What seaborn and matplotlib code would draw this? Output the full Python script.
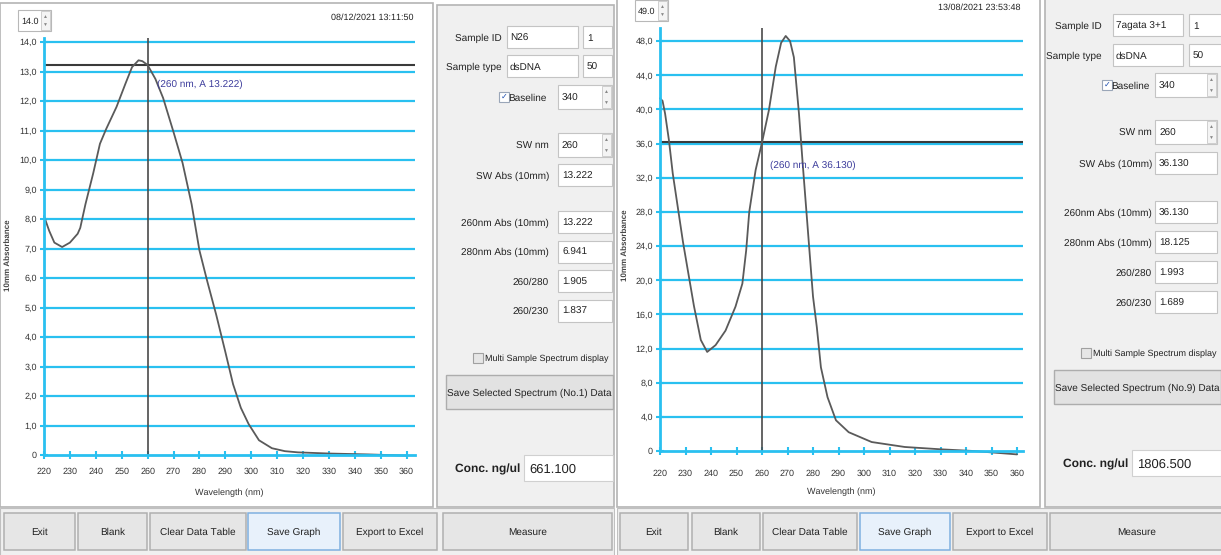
import matplotlib
matplotlib.use("Agg")
import matplotlib.pyplot as plt
from matplotlib.patches import Rectangle
import seaborn as sns
import pandas as pd

sns.set_theme(style="white")
plt.rcParams['font.family'] = ['Liberation Sans', 'DejaVu Sans']
plt.rcParams['text.hinting'] = 'no_hinting'
plt.rcParams['text.hinting_factor'] = 1

W, H = 1221, 555

# ---------------- data ----------------
wl_left = [220, 222, 224, 227, 230, 233, 234, 236, 239, 241.6, 244, 248, 251.5, 254, 256.5,
           258, 260, 263, 266, 270, 273.5, 277, 280, 283, 286.5, 290, 293, 296, 299, 303,
           308, 313, 318, 330, 345, 360]
abs_left = [8.1, 7.6, 7.2, 7.05, 7.2, 7.5, 7.7, 8.5, 9.55, 10.55, 11.05, 11.8, 12.6, 13.15, 13.38,
            13.35, 13.22, 12.75, 12.1, 10.95, 9.9, 8.5, 6.94, 5.9, 4.75, 3.5, 2.4, 1.6, 1.05, 0.5,
            0.23, 0.13, 0.09, 0.05, 0.02, -0.02]

wl_right = [220, 221, 222, 223.5, 225, 227, 229, 231, 233.3, 236, 238.5, 241.8, 245.7, 249.6,
            252.3, 253.8, 255, 257.5, 260, 262.7, 265.4, 267.5, 269.3, 271, 272.5, 274.5, 276,
            278, 280, 281.5, 283.1, 285.7, 289, 294, 303, 316, 330, 343, 358, 360]
abs_right = [41.3, 41.0, 39.5, 36.4, 32.5, 28.5, 24.5, 21.0, 17.0, 13.0, 11.6, 12.4, 14.1, 16.9,
             19.6, 23.5, 28.0, 32.9, 36.13, 39.9, 45.0, 47.8, 48.6, 48.0, 46.1, 39.5, 33.5,
             25.8, 18.1, 14.5, 9.8, 6.3, 3.6, 2.2, 1.05, 0.47, 0.2, 0.0, -0.35, -0.4]

x_ticks = list(range(220, 361, 10))
left_yticks = list(range(0, 15))
left_ylabels = ["0"] + [f"{v},0" for v in left_yticks[1:]]
right_yticks = list(range(0, 49, 4))
right_ylabels = ["0"] + [f"{v},0" for v in right_yticks[1:]]

sw_nm = 260
sw_abs_left = 13.222
sw_abs_right = 36.130

left_fields = {"Sample ID": ("N26", "1"), "Sample type": ("dsDNA", "50")}
right_fields = {"Sample ID": ("7agata 3+1", "1"), "Sample type": ("dsDNA", "50")}
left_vals = ["13.222", "6.941", "1.905", "1.837"]
right_vals = ["36.130", "18.125", "1.993", "1.689"]
val_labels = ["260nm Abs (10mm)", "280nm Abs (10mm)", "260/280", "260/230"]
left_conc, right_conc = "661.100", "1806.500"
left_date, right_date = "08/12/2021 13:11:50", "13/08/2021 23:53:48"
buttons = ["Exit", "Blank", "Clear Data Table", "Save Graph", "Export to Excel"]

# ---------------- helpers ----------------
fig = plt.figure(figsize=(W / 100, H / 100), dpi=100)
fig.patch.set_facecolor("white")

def fx(x):
    return x / W

def fy(y):
    return 1 - y / H

def rect(x0, y0, x1, y1, fc="white", ec="#a9a9a9", lw=1.0, z=-5):
    fig.patches.append(Rectangle((fx(x0), fy(y1)), (x1 - x0) / W, (y1 - y0) / H,
                                 transform=fig.transFigure, facecolor=fc, edgecolor=ec,
                                 linewidth=lw, zorder=z))

def txt(x, y, s, ha="left", size=7, color="#222222", weight="normal", rot=0,
        va="center_baseline"):
    fig.text(fx(x), fy(y), s, ha=ha, va=va, fontsize=size, color=color,
             fontweight=weight, rotation=rot, zorder=4)

GRID = "#29c0f0"
PANEL = "#f0f0f0"
FS = 7

def spinner(x1, y0, y1):
    rect(x1 - 10, y0 + 1, x1 - 1, y1 - 1, fc="#f4f4f4", ec="#c8c8c8", lw=0.6, z=-3)
    txt(x1 - 5.5, y0 + (y1 - y0) * 0.3, "▲", ha="center", size=3.5, color="#888888",
        va="center")
    txt(x1 - 5.5, y0 + (y1 - y0) * 0.72, "▼", ha="center", size=3.5, color="#888888",
        va="center")

def window(off, dy, graph_right, ctrl_x0, ctrl_x1, pos, ys, fields, vals, conc, date,
           spin_val, sw_abs, wl, ab, yticks, ylabels, ax_box, xlim_max, ylim_max, ann_xy, no,
           btn_x, measure_x, xpad, lpad):
    lab_r, bx0, bx1, sbx0, sbx1, vx0, vx1, lab2_r = pos
    # graph panel frame
    rect(off + 0, dy + 3, graph_right, 507, fc="white", ec="#b4b4b4", lw=1.2, z=-10)
    # control panel
    rect(ctrl_x0, dy + 5, ctrl_x1, 507, fc=PANEL, ec="#b4b4b4", lw=1.2, z=-10)
    # top spinner and date
    sx0 = off + 18
    rect(sx0, dy + 10, sx0 + 33, dy + 31, fc="white", ec="#b8b8b8", lw=0.8)
    txt(sx0 + 3, dy + 20.5, spin_val, size=6.5)
    spinner(sx0 + 33, dy + 10, dy + 31)
    txt(graph_right - 19, dy + 17, date, ha="right", size=6.8)
    # axes
    l, r, t, b = ax_box
    ax = fig.add_axes([fx(l), fy(b), (r - l) / W, (b - t) / H])
    df = pd.DataFrame({"wl": wl, "A": ab})
    sns.lineplot(data=df, x="wl", y="A", ax=ax, color="#5a5a5a", linewidth=1.3,
                 zorder=4, clip_on=False)
    ax.set_xlim(220, xlim_max)
    ax.set_ylim(0, ylim_max)
    ax.set_facecolor("white")
    for yv in yticks[1:]:
        ax.axhline(yv, color=GRID, lw=1.6, zorder=1)
    ax.axvline(sw_nm, color="#4a4a4a", lw=1.2, zorder=3)
    ax.axhline(sw_abs, color="#3a3a3a", lw=1.5, zorder=3)
    ax.text(ann_xy[0], ann_xy[1], f"({sw_nm} nm, A {sw_abs:.3f})", color="#3c3c9c",
            fontsize=7.5, va="center", ha="left", zorder=5)
    ax.set_xticks(x_ticks)
    ax.set_xticklabels([str(v) for v in x_ticks])
    ax.set_yticks(yticks)
    ax.set_yticklabels(ylabels)
    ax.tick_params(axis="both", direction="inout", length=6, width=1.5, color=GRID,
                   labelsize=6.5, labelcolor="#333333", pad=2, left=True, bottom=True)
    ax.tick_params(axis="x", pad=xpad)
    for s in ["top", "right"]:
        ax.spines[s].set_visible(False)
    for s in ["left", "bottom"]:
        ax.spines[s].set_color(GRID)
        ax.spines[s].set_linewidth(2)
        ax.spines[s].set_zorder(6)
    ax.set_xlabel("Wavelength (nm)", fontsize=6.5, color="#333333", labelpad=lpad)
    ax.set_ylabel("")
    txt(off + 8, dy + 255, "10mm Absorbance", ha="center", size=6, weight="bold",
        color="#444444", rot=90, va="center")

    # control panel content
    y_id, y_type, y_base, y_sw, y_swa, y_v0, y_step, y_multi, y_btn, y_conc = ys
    for (k, (v1, v2)), yy in zip(fields.items(), [y_id, y_type]):
        txt(lab_r, yy, k, ha="right", size=FS)
        rect(bx0, yy - 11, bx1, yy + 11, fc="white", ec="#c4c4c4", lw=0.8)
        txt(bx0 + 3, yy, v1, size=FS)
        rect(sbx0, yy - 11, sbx1, yy + 11, fc="white", ec="#c4c4c4", lw=0.8)
        txt(sbx0 + 4, yy, v2, size=FS)
    # baseline
    yb = y_base
    rect(lab2_r - 50, yb - 5, lab2_r - 40, yb + 5, fc="white", ec="#9aa6b8", lw=0.8)
    txt(lab2_r - 45, yb, "✓", ha="center", size=6, color="#2050b0", va="center")
    txt(lab2_r - 2, yb, "Baseline", ha="right", size=FS)
    rect(vx0, yb - 12, vx1, yb + 12, fc="white", ec="#c4c4c4", lw=0.8)
    txt(vx0 + 4, yb, "340", size=FS)
    spinner(vx1, yb - 12, yb + 12)
    ysw = y_sw
    txt(lab2_r, ysw, "SW nm", ha="right", size=FS)
    rect(vx0, ysw - 12, vx1, ysw + 12, fc="white", ec="#c4c4c4", lw=0.8)
    txt(vx0 + 4, ysw, str(sw_nm), size=FS)
    spinner(vx1, ysw - 12, ysw + 12)
    ya = y_swa
    txt(lab2_r, ya, "SW Abs (10mm)", ha="right", size=FS)
    rect(vx0, ya - 11, vx1, ya + 11, fc="white", ec="#c4c4c4", lw=0.8)
    txt(vx0 + 4, ya, vals[0], size=FS)
    for i, (lab, v) in enumerate(zip(val_labels, vals)):
        yy = y_v0 + i * y_step
        txt(lab2_r, yy, lab, ha="right", size=FS)
        rect(vx0, yy - 11, vx1, yy + 11, fc="white", ec="#c4c4c4", lw=0.8)
        txt(vx0 + 4, yy, v, size=FS)
    ym = y_multi
    rect(ctrl_x0 + 36, ym - 5, ctrl_x0 + 46, ym + 5, fc="#e6e6e6", ec="#a0a0a0", lw=0.8)
    txt(ctrl_x0 + 48, ym, "Multi Sample Spectrum display", size=6.6)
    rect(ctrl_x0 + 9, y_btn, ctrl_x0 + 176, y_btn + 34, fc="#e2e2e2", ec="#adadad", lw=1)
    txt(ctrl_x0 + 92, y_btn + 17, f"Save Selected Spectrum (No.{no}) Data",
        ha="center", size=FS)
    yc = y_conc
    txt(ctrl_x0 + 18, yc, "Conc. ng/ul", size=8.5, weight="bold")
    rect(ctrl_x0 + 87, yc - 13, ctrl_x0 + 176, yc + 13, fc="white", ec="#d0d0d0", lw=0.8)
    txt(ctrl_x0 + 92, yc, conc, size=9)

    # buttons
    by0, by1 = 513, 550
    rect(off, 508, ctrl_x1, H + 5, fc=PANEL, ec="#c0c0c0", lw=0.8, z=-10)
    for (x0, x1), label in zip(btn_x, buttons):
        hl = label == "Save Graph"
        rect(x0, by0, x1, by1, fc="#e8f1fb" if hl else "#e6e6e6",
             ec="#7fb0e0" if hl else "#b0b0b0", lw=1.1)
        txt((x0 + x1) / 2, (by0 + by1) / 2, label, ha="center", size=FS)
    rect(measure_x[0], by0, measure_x[1], by1, fc="#e6e6e6", ec="#b0b0b0", lw=1.1)
    txt((measure_x[0] + measure_x[1]) / 2, (by0 + by1) / 2, "Measure", ha="center", size=FS)
    return ax


window(0, 0, 433, 437, 614,
       (502, 507, 578, 583, 612, 558, 612, 549),
       (37, 66, 97, 145, 175, 222, 29.5, 358, 375, 468),
       left_fields, left_vals, left_conc, left_date, "14.0",
       sw_abs_left, wl_left, abs_left, left_yticks, left_ylabels,
       (44, 415, 38, 455), 220 + (415 - 44) / 2.59, 417 / 29.5, (263.5, 12.55), 1,
       [(4, 75), (78, 147), (150, 246), (248, 340), (343, 437)], (443, 612), 6, 9)

window(617, -10, 1040, 1045, 1223,
       (1102, 1113, 1183, 1189, 1226, 1155, 1217, 1152),
       (25, 55, 85, 132, 163, 212, 30, 353, 370, 463),
       right_fields, right_vals, right_conc, right_date, "49.0",
       sw_abs_right, wl_right, abs_right, right_yticks, right_ylabels,
       (660, 1023, 28, 451), 220 + (1023 - 660) / 2.55, 423 / 8.54, (263.1, 33.5), 9,
       [(620, 688), (692, 760), (763, 857), (860, 950), (953, 1047)], (1050, 1223), 10, 7)

fig.savefig("out.png", dpi=100, facecolor="white")
